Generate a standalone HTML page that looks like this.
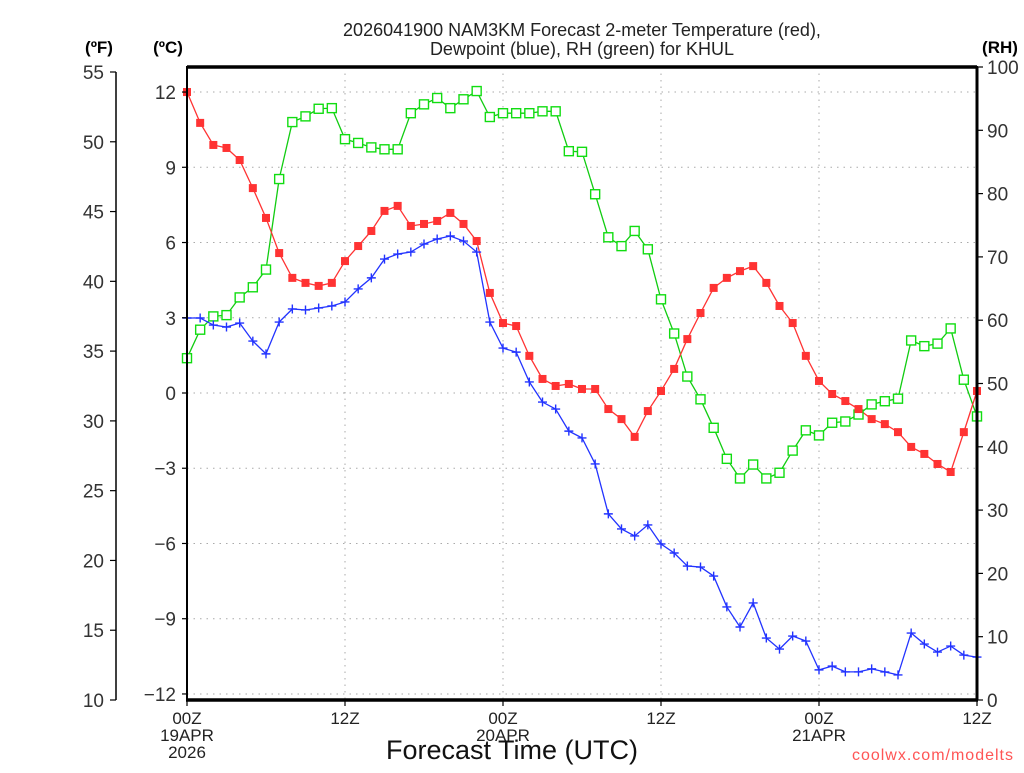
<!DOCTYPE html>
<html><head><meta charset="utf-8"><style>
body{margin:0;background:#fff;}
svg text{font-family:"Liberation Sans",sans-serif;}
</style></head><body>
<svg id="chart" width="1024" height="768" xmlns="http://www.w3.org/2000/svg">
<rect width="1024" height="768" fill="#fff"/>
<g id="grid"></g>
<g id="series"></g>
<g id="axes"></g>
<text x="582" y="36" font-size="18" text-anchor="middle" fill="#222">2026041900 NAM3KM Forecast 2-meter Temperature (red),</text>
<text x="582" y="55" font-size="18" text-anchor="middle" fill="#222">Dewpoint (blue), RH (green) for KHUL</text>
<text x="99" y="53" font-size="17" font-weight="bold" text-anchor="middle">(ºF)</text>
<text x="168" y="53" font-size="17" font-weight="bold" text-anchor="middle">(ºC)</text>
<text x="1000" y="53" font-size="17" font-weight="bold" text-anchor="middle">(RH)</text>
<text x="512" y="759" font-size="27" text-anchor="middle" fill="#111">Forecast Time (UTC)</text>
<text x="1014" y="760" font-size="16" text-anchor="end" fill="#f55" letter-spacing="1">coolwx.com/modelts</text>
</svg>
<script>
const tempC=[12.0,10.77,9.89,9.77,9.29,8.17,6.98,5.58,4.59,4.39,4.27,4.39,5.26,5.86,6.46,7.26,7.46,6.66,6.74,6.86,7.18,6.74,6.06,3.99,2.79,2.67,1.48,0.56,0.28,0.36,0.16,0.16,-0.64,-1.04,-1.75,-0.72,0.08,0.96,2.15,3.19,4.19,4.59,4.86,5.06,4.39,3.47,2.79,1.48,0.48,-0.04,-0.32,-0.64,-1.04,-1.24,-1.56,-2.15,-2.43,-2.83,-3.15,-1.56,0.08];
const dewC=[2.99,2.99,2.71,2.63,2.79,2.07,1.56,2.83,3.35,3.31,3.39,3.47,3.63,4.15,4.59,5.34,5.54,5.62,5.94,6.14,6.26,6.06,5.62,2.83,1.79,1.63,0.44,-0.36,-0.64,-1.52,-1.79,-2.83,-4.82,-5.42,-5.70,-5.26,-6.02,-6.38,-6.90,-6.94,-7.30,-8.53,-9.33,-8.37,-9.77,-10.21,-9.69,-9.89,-11.04,-10.89,-11.12,-11.12,-11.0,-11.12,-11.24,-9.57,-10.01,-10.33,-10.09,-10.45,-10.53];
const rh=[54.0,58.5,60.6,60.8,63.6,65.2,68.0,82.3,91.3,92.2,93.4,93.5,88.6,88.0,87.3,87.0,87.0,92.7,94.1,95.1,93.5,94.9,96.2,92.1,92.7,92.7,92.7,93.0,93.0,86.7,86.6,79.9,73.1,71.7,74.1,71.2,63.3,57.9,51.1,47.5,43.0,38.1,35.0,37.2,35.0,35.9,39.4,42.6,41.8,43.8,44.0,45.1,46.7,47.2,47.6,56.8,55.9,56.3,58.7,50.6,44.8];
const cTicks=[12,9,6,3,0,-3,-6,-9,-12];
const fTicks=[55,50,45,40,35,30,25,20,15,10];
const rhTicks=[100,90,80,70,60,50,40,30,20,10,0];
const xTickHours=[0,12,24,36,48,60];
const xTickLabels=[["00Z","19APR","2026"],["12Z"],["00Z","20APR"],["12Z"],["00Z","21APR"],["12Z"]];

const X0=187,X1=977,Y0=67,Y1=700;
const xs=h=>X0+(X1-X0)*h/60;
const yc=c=>393-c*25.08;
const yf=f=>700-(f-10)*(628/45);
const yr=r=>700-r*6.33;
const NS="http://www.w3.org/2000/svg";
function mk(tag,attrs,parent){const e=document.createElementNS(NS,tag);for(const k in attrs)e.setAttribute(k,attrs[k]);parent.appendChild(e);return e;}
const grid=document.getElementById('grid'),ser=document.getElementById('series'),ax=document.getElementById('axes');

cTicks.forEach(c=>{if(c===-12||c===12){}
  const l=mk('line',{x1:X0,x2:X1,y1:yc(c),y2:yc(c),stroke:'#aaa','stroke-dasharray':'1.5 5'},grid);
  
  
});
xTickHours.forEach(h=>{if(h===0||h===60)return;
  const l=mk('line',{x1:xs(h),x2:xs(h),y1:Y0,y2:Y1,stroke:'#aaa','stroke-dasharray':'1.5 5'},grid);
  
  
});

function line(vals,fy,color,name){
  const p=mk('polyline',{points:vals.map((v,i)=>xs(i)+','+fy(v)).join(' '),fill:'none',stroke:color,'stroke-width':1.3},ser);
  
  
}
line(rh,yr,'#1c1','rh');
line(tempC,yc,'#f33','temperature');
line(dewC,yc,'#23f','dewpoint');
rh.forEach((v,i)=>{const r=mk('rect',{x:xs(i)-4.5,y:yr(v)-4.5,width:9,height:9,fill:'#fff',stroke:'#1d1','stroke-width':1.4},ser);
  
  });
tempC.forEach((v,i)=>{const r=mk('rect',{x:xs(i)-4,y:yc(v)-4,width:8,height:8,fill:'#f33'},ser);
  
  });
dewC.forEach((v,i)=>{const x=xs(i),y=yc(v);const p=mk('path',{d:`M${x-4.5} ${y}H${x+4.5}M${x} ${y-4.5}V${y+4.5}`,stroke:'#23f','stroke-width':1.4},ser);
  
  });

// frame
let f=mk('path',{d:`M${X0} ${Y0}H${X1}V${Y1}H${X0}Z`,fill:'none',stroke:'#000','stroke-width':2},ax);


mk('line',{x1:X0,x2:X1,y1:Y0,y2:Y0,stroke:'#000','stroke-width':3.5},ax);
mk('line',{x1:X0-1,x2:X1+1,y1:Y1,y2:Y1,stroke:'#000','stroke-width':3.5},ax);
mk('line',{x1:X1,x2:X1,y1:Y0,y2:Y1,stroke:'#000','stroke-width':3},ax);
// F axis
mk('line',{x1:116,x2:116,y1:yf(55),y2:yf(10),stroke:'#000','stroke-width':1.5},ax);
fTicks.forEach(v=>{mk('line',{x1:110,x2:116,y1:yf(v),y2:yf(v),stroke:'#000','stroke-width':1.2},ax);
  const t=mk('text',{x:104,y:yf(v)+7,'font-size':19,'text-anchor':'end',fill:'#333'},ax);t.textContent=v;
  
  });
cTicks.forEach(v=>{mk('line',{x1:X0-5,x2:X0,y1:yc(v),y2:yc(v),stroke:'#000','stroke-width':1.2},ax);
  const t=mk('text',{x:176,y:yc(v)+7,'font-size':19,'text-anchor':'end',fill:'#333'},ax);t.textContent=(v<0?'\u2212':'')+Math.abs(v);
  
  });
rhTicks.forEach(v=>{mk('line',{x1:X1,x2:X1+6,y1:yr(v),y2:yr(v),stroke:'#000','stroke-width':1.2},ax);
  const t=mk('text',{x:987,y:yr(v)+7,'font-size':19,fill:'#333'},ax);t.textContent=v;
  
  });
xTickHours.forEach((h,k)=>{mk('line',{x1:xs(h),x2:xs(h),y1:Y1,y2:Y1+6,stroke:'#000','stroke-width':1.2},ax);
  xTickLabels[k].forEach((s,j)=>{const t=mk('text',{x:xs(h),y:724+j*17,'font-size':17,'text-anchor':'middle',fill:'#222'},ax);t.textContent=s;
    
    });});
</script>
</body></html>
